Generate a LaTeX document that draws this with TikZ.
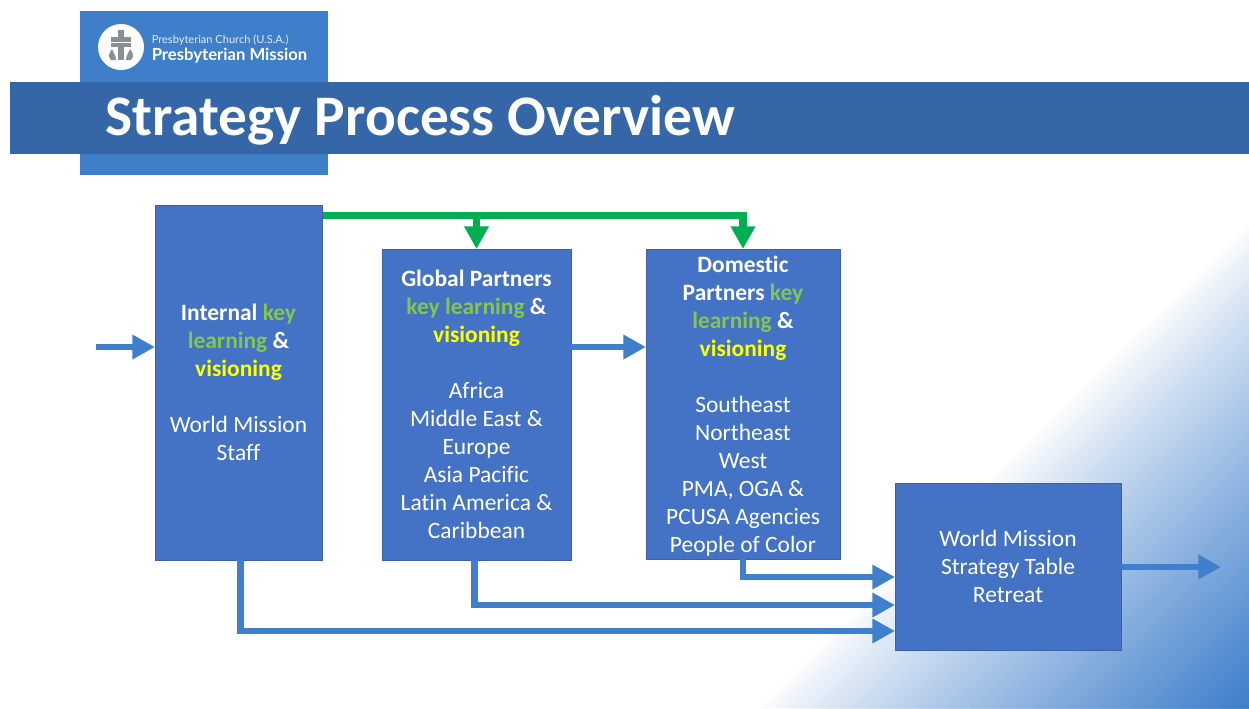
\documentclass[tikz,border=0pt]{standalone}
\usepackage{fontspec}
\setmainfont{Carlito}[Ligatures=NoCommon]
\newfontfamily\logofont{Lato}
\usetikzlibrary{arrows.meta}
\definecolor{tabblue}{HTML}{3F7EC9}
\definecolor{bandblue}{HTML}{3566A8}
\definecolor{boxblue}{HTML}{4472C4}
\definecolor{boxedge}{HTML}{3A62A8}
\definecolor{flowblue}{HTML}{3F7FCB}
\definecolor{flowgreen}{HTML}{00B050}
\definecolor{keygreen}{HTML}{84C64E}
\definecolor{visyellow}{HTML}{FFFF00}
\definecolor{sealgrey}{HTML}{8A8F94}
\newcommand{\keyword}[1]{\textcolor{keygreen}{#1}}
\newcommand{\visword}[1]{\textcolor{visyellow}{#1}}
\tikzset{
	boxnode/.style={draw=boxedge,line width=0.6pt,fill=boxblue,text=white,align=center,text depth=0pt,
		inner sep=0pt,outer sep=0pt,font=\fontsize{17.6}{21}\selectfont},
	flowline/.style={draw=flowblue,line width=5.2pt,-{Triangle[length=17pt,width=17.5pt]}},
	greenline/.style={draw=flowgreen,line width=5.6pt,-{Triangle[length=17pt,width=17.5pt]}},
}
\begin{document}
\begin{tikzpicture}[x=0.75pt,y=-0.75pt]
	\useasboundingbox (0,0) rectangle (1249,708);
	% corner wash
	\foreach \t in {1,...,100} {
		\pgfmathsetmacro{\reach}{1-(\t-1)/100}
		\pgfmathsetmacro{\tint}{100*(\t/100)^0.85}
		\fill[flowblue!\tint!white] (1249-489*\reach,708) -- (1249,708) -- (1249,708-483*\reach) -- cycle;
	}
	% header
	\fill[tabblue] (80,11) rectangle (328,175);
	\fill[bandblue] (10,82) rectangle (1249,154);
	\node[circle,fill=white,inner sep=0pt,minimum size=34.5pt] (seal) at (121,47) {};
	\fill[sealgrey] (118,30) rectangle (124,60);
	\fill[sealgrey] (111,37) rectangle (131,47);
	\fill[white] (111,41.5) rectangle (131,42.5);
	\fill[sealgrey] (111,60) .. controls (107,56) and (110,52) .. (112,49) .. controls (113,53) and (116,55) .. (116,60) -- cycle;
	\fill[sealgrey] (131,60) .. controls (135,56) and (132,52) .. (130,49) .. controls (129,53) and (126,55) .. (126,60) -- cycle;
	\node[anchor=west,inner sep=0pt,text=white!85!tabblue,font=\logofont\fontsize{8.3}{10}\selectfont] (church) at (151.5,40) {Presbyterian Church (U.S.A.)};
	\node[anchor=west,inner sep=0pt,text=white,font=\logofont\bfseries\fontsize{12.5}{15}\selectfont] (mission) at (151.5,55.5) {Presbyterian Mission};
	\node[anchor=base west,inner sep=0pt,text=white,font=\bfseries\fontsize{43}{50}\selectfont] (title) at (105.5,135) {Strategy Process Overview};
	% boxes
	\node[boxnode,minimum width=125.25pt,minimum height=266.25pt] (internal) at (238.5,382.5) {\textbf{Internal \keyword{key}}\\\textbf{\keyword{learning} \&}\\\textbf{\visword{visioning}}\\[21pt]World Mission\\Staff};
	\node[boxnode,minimum width=141.75pt,minimum height=233.25pt] (global) at (476.5,404.5) {\textbf{Global Partners}\\\textbf{\keyword{key learning} \&}\\\textbf{\visword{visioning}}\\[21pt]Africa\\Middle East \&\\Europe\\Asia Pacific\\Latin America \&\\Caribbean};
	\node[boxnode,minimum width=145.5pt,minimum height=232.5pt] (domestic) at (743,404) {\textbf{Domestic}\\\textbf{Partners \keyword{key}}\\\textbf{\keyword{learning} \&}\\\textbf{\visword{visioning}}\\[21pt]Southeast\\Northeast\\West\\PMA, OGA \&\\PCUSA Agencies\\People of Color};
	\node[boxnode,minimum width=169.5pt,minimum height=125.25pt] (retreat) at (1008,566.5) {World Mission\\Strategy Table\\Retreat};
	% free ends
	\coordinate (entry) at (96,347);
	\coordinate (greenstart) at (323,215.5);
	\coordinate (exit) at (1221,567);
	\coordinate (portA) at (895,577);
	\coordinate (portB) at (895,605);
	\coordinate (portC) at (895,631);
	% connectors
	\draw[flowline] (entry) -- (internal.west |- entry);
	\draw[flowline] (global.east |- entry) -- (domestic.west |- entry);
	\draw[flowline] (retreat.east |- exit) -- (exit);
	\draw[flowline] (domestic.south) |- (portA);
	\draw[flowline] ([xshift=-1.5pt]global.south) |- (portB);
	\draw[flowline] ([xshift=1.5pt]internal.south) |- (portC);
	\draw[greenline] (greenstart) -| (global.north);
	\draw[greenline] (greenstart) -| (domestic.north);
\end{tikzpicture}
\end{document}
